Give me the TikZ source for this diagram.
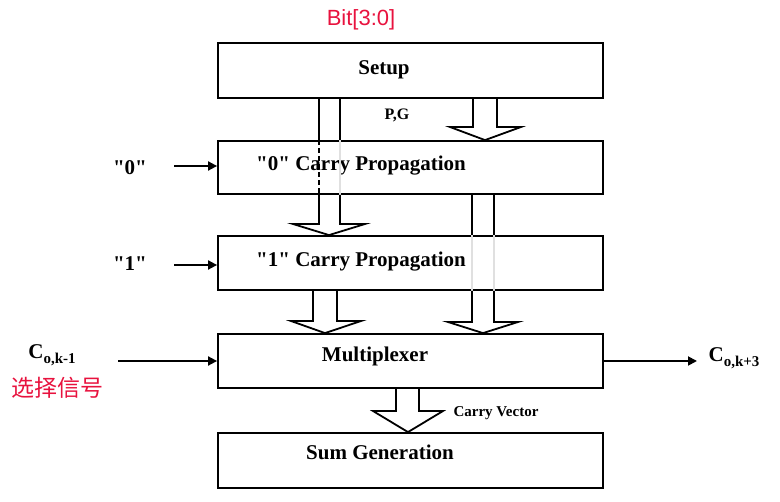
\documentclass[tikz,border=0pt]{standalone}
\usepackage{fontspec}
\newfontfamily\tnr{Liberation Serif}
\newfontfamily\arialfont{Liberation Sans}
\newfontfamily\cjk{Noto Sans CJK SC}
\usetikzlibrary{arrows.meta,calc}
\definecolor{sigred}{RGB}{232,18,62}
\tikzset{
  blk/.style={draw=black, line width=1.8pt, minimum width=385pt, inner sep=0pt},
  btxt/.style={font=\tnr\fontsize{21}{24}\selectfont\bfseries, inner sep=0pt},
  stxt/.style={font=\tnr\fontsize{15}{18}\selectfont\bfseries, inner sep=0pt},
  hollow/.style={draw=black, line width=1.8pt, line join=miter},
  faint/.style={draw=black!12, line width=1.2pt},
  inarrow/.style={draw=black, line width=1.8pt, -{Triangle[length=9pt,width=9pt]}},
  redtxt/.style={text=sigred, inner sep=0pt},
}
\newcommand{\subtx}[1]{\raisebox{-0.55ex}{\fontsize{15}{15}\selectfont\bfseries #1}}
\begin{document}
\begin{tikzpicture}[x=1pt,y=-1pt]
\useasboundingbox (0,0) rectangle (780,502);
% boxes
\node[blk, minimum height=55pt] (setup) at (410.5,70.5) {};
\node[blk, minimum height=53pt] (zero)  at (410.5,167.5) {};
\node[blk, minimum height=54pt] (one)   at (410.5,263) {};
\node[blk, minimum height=54pt] (mux)   at (410.5,361) {};
\node[blk, minimum height=55pt] (sum)   at (410.5,460.5) {};
% box texts
\node[btxt] (tsetup) at (384,70) {Setup};
\node[btxt] (tzero)  at (361,166) {"0" Carry Propagation};
\node[btxt] (tone)   at (361,262) {"1" Carry Propagation};
\node[btxt] (tmux)   at (375,356) {Multiplexer};
\node[btxt] (tsum)   at (380,452) {Sum Generation};
% other labels
\node[redtxt, font=\arialfont\fontsize{22}{24}\selectfont] (bits) at (361,20) {Bit[3:0]};
\node[stxt, font=\tnr\fontsize{16}{18}\selectfont\bfseries] (pg) at (397,115) {P,G};
\node[stxt] (cv) at (496,413) {Carry Vector};
\node[btxt] (l0) at (130,168) {"0"};
\node[btxt] (l1) at (130,264) {"1"};
\node[btxt] (cin) at (52,355) {C\subtx{o,k-1}};
\node[redtxt, font=\cjk\fontsize{23}{26}\selectfont] (sel) at (58,388) {选择信号};
\node[btxt] (cout) at (734,358) {C\subtx{o,k+3}};
% input / output arrows
\coordinate (s0) at (174,166);
\coordinate (s1) at (174,265);
\coordinate (sc) at (118,361);
\coordinate (ec) at (697,361);
\draw[inarrow] (s0) -- (s0 -| zero.west);
\draw[inarrow] (s1) -- (s1 -| one.west);
\draw[inarrow] (sc) -- (sc -| mux.west);
\draw[inarrow] (mux.east |- ec) -- (ec);
% hollow arrow Setup -> "1" (through "0")
\draw[hollow] (319,0 |- setup.south) -- (319,0 |- zero.north);
\draw[hollow, dash pattern=on 5pt off 3pt] (319,0 |- zero.north) -- (319,0 |- zero.south);
\draw[faint] (340,0 |- zero.north) -- (340,0 |- zero.south);
\draw[hollow] (340,0 |- setup.south) -- (340,0 |- zero.north);
\draw[hollow] (319,0 |- zero.south) -- (319,224) -- (293,224) -- (329,0 |- one.north)
   -- (365,224) -- (340,224) -- (340,0 |- zero.south);
% hollow arrow Setup -> "0" (P,G)
\draw[hollow] (473,0 |- setup.south) -- (473,127) -- (450,127) -- (485,0 |- zero.north)
   -- (521,127) -- (497,127) -- (497,0 |- setup.south);
% "0" -> "1" shafts, through "1", head into Multiplexer
\draw[hollow] (472,0 |- zero.south) -- (472,0 |- one.north);
\draw[hollow] (494,0 |- zero.south) -- (494,0 |- one.north);
\draw[faint] (472,0 |- one.north) -- (472,0 |- one.south);
\draw[faint] (494,0 |- one.north) -- (494,0 |- one.south);
\draw[hollow] (472,0 |- one.south) -- (472,322) -- (448,322) -- (483,0 |- mux.north)
   -- (518,322) -- (494,322) -- (494,0 |- one.south);
% "1" -> Multiplexer left
\draw[hollow] (313,0 |- one.south) -- (313,321) -- (291,321) -- (325,0 |- mux.north)
   -- (361,321) -- (337,321) -- (337,0 |- one.south);
% Multiplexer -> Sum Generation
\draw[hollow] (396,0 |- mux.south) -- (396,411) -- (373,411) -- (408,0 |- sum.north)
   -- (443,411) -- (419,411) -- (419,0 |- mux.south);
\end{tikzpicture}
\end{document}
